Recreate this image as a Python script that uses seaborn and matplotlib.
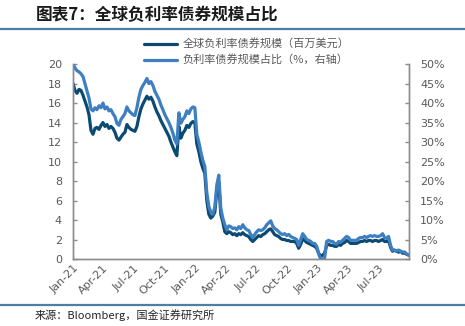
import matplotlib
matplotlib.use("Agg")
import matplotlib.pyplot as plt
import matplotlib.dates as mdates
from matplotlib.lines import Line2D
from matplotlib.ticker import FuncFormatter
import numpy as np
import pandas as pd
import seaborn as sns

# Global negative-yielding bond market: size and share
start_date = "2021-01-01"
end_date = "2023-09-28"

size_musd = [
    18.0, 17.3, 17.0, 17.4, 17.3, 16.8, 16.2, 15.6, 14.8, 13.2,
    12.8, 13.4, 13.5, 13.3, 13.7, 14.0, 13.6, 13.8, 13.4, 13.6,
    13.4, 13.0, 12.4, 12.2, 12.5, 12.8, 13.0, 13.8, 13.5, 13.3,
    13.2, 13.1, 13.6, 14.6, 15.4, 15.9, 16.3, 16.7, 16.4, 16.6,
    16.2, 15.6, 15.1, 14.7, 14.2, 13.8, 13.4, 13.0, 12.6, 12.0,
    11.5, 11.0, 10.6, 13.6, 12.4, 12.9, 13.2, 13.7, 13.5, 13.9,
    14.1, 14.0, 11.8, 11.0, 10.0, 9.3, 8.8, 6.0, 4.6, 4.2,
    4.4, 4.8, 7.0, 7.8, 4.6, 3.8, 2.8, 2.6, 2.8, 2.7,
    2.5, 2.6, 2.4, 2.6, 2.5, 2.7, 2.5, 2.4, 2.3, 2.0,
    1.8, 2.0, 2.2, 2.4, 2.3, 2.5, 2.6, 2.8, 3.0, 3.1,
    2.8, 2.5, 2.4, 2.3, 2.1, 2.0, 2.0, 1.9, 1.9, 1.8,
    1.8, 1.8, 1.6, 1.1, 1.5, 2.1, 1.9, 1.7, 1.6, 1.5,
    1.4, 1.3, 1.1, 0.6, 0.3, 0.4, 0.6, 1.4, 1.5, 1.4,
    1.4, 1.3, 1.3, 1.5, 1.4, 1.6, 1.7, 1.9, 1.8, 1.6,
    1.6, 1.6, 1.6, 1.7, 1.8, 1.8, 1.9, 1.8, 1.9, 1.9,
    1.8, 1.9, 1.9, 1.8, 1.9, 2.0, 1.8, 1.8, 1.9, 1.2,
    0.8, 0.9, 0.8, 0.7, 0.8, 0.6, 0.6, 0.5, 0.4,
]

share_pct = [
    50.0, 49.0, 48.3, 48.0, 47.5, 46.8, 45.0, 43.3, 41.3, 38.5,
    38.0, 38.8, 38.3, 39.3, 38.8, 40.0, 38.5, 39.0, 38.0, 38.3,
    37.3, 36.5, 34.8, 34.3, 35.8, 36.5, 37.3, 39.0, 38.0, 37.5,
    37.0, 36.8, 38.8, 41.5, 43.5, 44.5, 45.3, 46.3, 45.0, 45.5,
    44.5, 43.0, 42.0, 41.0, 39.5, 38.3, 37.0, 36.0, 35.0, 33.8,
    32.3, 30.5, 29.5, 37.5, 34.8, 35.8, 36.5, 38.0, 37.3, 38.5,
    39.0, 38.8, 32.0, 30.0, 27.5, 25.3, 23.8, 17.0, 13.5, 12.0,
    11.5, 13.3, 19.0, 21.5, 13.0, 10.5, 8.8, 7.5, 8.5, 8.3,
    7.8, 8.0, 7.5, 8.3, 7.8, 8.8, 8.0, 7.5, 7.3, 6.3,
    5.5, 6.3, 7.0, 7.5, 7.3, 7.5, 8.0, 8.8, 9.3, 9.8,
    8.5, 7.8, 7.5, 7.0, 6.5, 6.3, 6.5, 6.0, 6.3, 5.8,
    5.5, 5.3, 5.0, 3.5, 5.0, 6.5, 5.8, 5.0, 4.8, 4.5,
    4.0, 4.0, 3.3, 1.3, 0.0, 0.0, 0.3, 4.5, 4.8, 4.5,
    4.5, 4.0, 3.8, 4.5, 4.3, 4.8, 5.3, 5.8, 5.5, 4.8,
    4.8, 4.8, 4.8, 5.3, 5.5, 5.5, 5.8, 5.5, 5.8, 6.0,
    5.8, 6.0, 5.8, 5.8, 6.0, 6.5, 5.5, 5.3, 5.8, 3.5,
    2.3, 2.3, 2.0, 2.3, 2.0, 1.8, 1.8, 1.3, 1.0,
]

dates = pd.date_range(start_date, end_date, periods=len(size_musd))
tick_dates = pd.date_range("2021-01-01", "2023-07-01", freq="QS")

title_text = "图表7：全球负利率债券规模占比"
label_size = "全球负利率债券规模（百万美元）"
label_share = "负利率债券规模占比（%，右轴）"
source_text = "来源：Bloomberg，国金证券研究所"

df = pd.DataFrame({"date": dates, "size": size_musd, "share": share_pct})

sns.set_theme(style="white")
plt.rcParams["font.family"] = ["Noto Sans CJK SC", "DejaVu Sans"]

DARK = "#0b4a72"
LIGHT = "#3e7fc1"
GREY = "#595959"
AXIS = "#8c8c8c"

fig = plt.figure(figsize=(4.65, 3.26), dpi=100)
ax = fig.add_axes([0.157, 0.2055, 0.723, 0.598])
ax2 = ax.twinx()

sns.lineplot(data=df, x="date", y="size", ax=ax, color=DARK, lw=2.3, legend=False)
sns.lineplot(data=df, x="date", y="share", ax=ax2, color=LIGHT, lw=2.3, legend=False)

ax.set_ylim(0, 20)
ax.set_yticks(np.arange(0, 21, 2))
ax2.set_ylim(0, 50)
ax2.set_yticks(np.arange(0, 51, 5))
ax2.yaxis.set_major_formatter(FuncFormatter(lambda v, p: f"{v:.0f}%"))
ax.set_xlim(pd.Timestamp("2021-01-01"), pd.Timestamp("2023-09-30"))
ax.set_xticks(tick_dates)
ax.xaxis.set_major_formatter(mdates.DateFormatter("%b-%y"))

for a in (ax, ax2):
    a.set_xlabel("")
    a.set_ylabel("")
    a.grid(False)
    for s in a.spines.values():
        s.set_color(AXIS)
        s.set_linewidth(1.0)
    a.spines["top"].set_visible(False)
    a.tick_params(direction="in", length=3, width=1, colors=AXIS,
                  labelcolor=GREY, labelsize=8)

ax.tick_params(axis="y", pad=8)
ax2.tick_params(axis="y", pad=8)
ax.tick_params(axis="x", pad=3)
for lbl in ax.get_xticklabels():
    lbl.set_rotation(45)
    lbl.set_ha("right")
    lbl.set_rotation_mode("anchor")
    lbl.set_fontfamily(["DejaVu Sans"])
for lbl in ax.get_yticklabels() + ax2.get_yticklabels():
    lbl.set_fontfamily(["DejaVu Sans"])

handles = [Line2D([], [], color=DARK, lw=2.3), Line2D([], [], color=LIGHT, lw=2.3)]
fig.legend(handles, [label_size, label_share], loc="upper left",
           bbox_to_anchor=(0.30, 0.895), frameon=False, fontsize=8,
           labelcolor=GREY, handlelength=3.0, handletextpad=0.45,
           labelspacing=0.45, borderaxespad=0)

fig.text(0.078, 0.953, title_text, fontsize=12, fontweight="bold",
         color="#1a1a1a", va="center", ha="left", style="italic")
fig.text(0.075, 0.034, source_text, fontsize=8, color="#262626",
         va="center", ha="left")

fig.add_artist(Line2D([0, 1], [0.91, 0.91], transform=fig.transFigure,
                      color="#4d7fa3", lw=1.6))
fig.add_artist(Line2D([0, 1], [0.064, 0.064], transform=fig.transFigure,
                      color="#4d7fa3", lw=1.6))

fig.savefig("out.png", dpi=100)
